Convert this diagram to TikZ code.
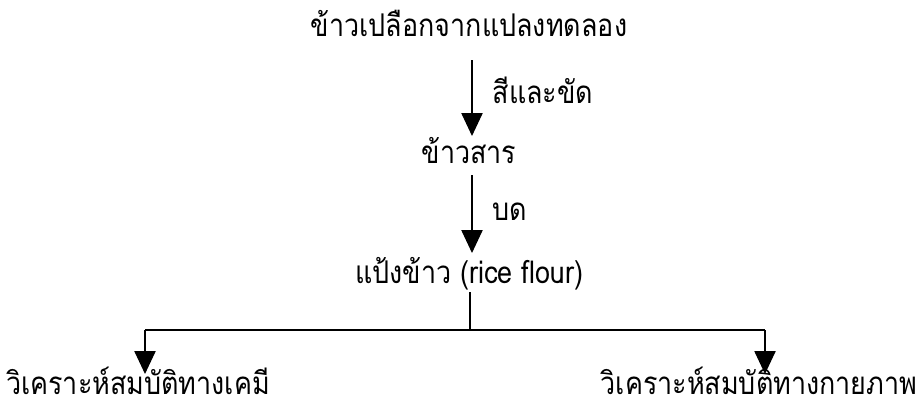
\documentclass[tikz,border=0pt]{standalone}
\usepackage{fontspec}
\newfontfamily\thaifont[Script=Thai,FakeStretch=0.86]{Loma}
\usetikzlibrary{arrows.meta}
\begin{document}
\begin{tikzpicture}[x=0.01cm,y=-0.01cm,
  lbl/.style={font=\thaifont\fontsize{8.9}{10}\selectfont, inner sep=0pt, anchor=base},
  conn/.style={line width=0.45pt},
  arr/.style={conn,-{Triangle[width=6pt,length=6.5pt]}}]
\useasboundingbox (0,0) rectangle (915,405);
\node[lbl] (paddy) at (469,36) {ข้าวเปลือกจากแปลงทดลอง};
\node[lbl] (milled) at (469,163) {ข้าวสาร};
\node[lbl] (flour) at (469,283) {แป้งข้าว (rice flour)};
\node[lbl] (chem) at (138,394) {วิเคราะห์สมบัติทางเคมี};
\node[lbl] (phys) at (759,394) {วิเคราะห์สมบัติทางกายภาพ};
\node[lbl, anchor=base west] (lab1) at (492,103) {สีและขัด};
\node[lbl, anchor=base west] (lab2) at (492,220) {บด};
\coordinate (a1s) at (472,60);
\coordinate (a1e) at (472,136);
\coordinate (a2s) at (472,175);
\coordinate (a2e) at (472,253);
\coordinate (stem) at (470,292);
\coordinate (hub) at (470,330);
\coordinate (lc) at (145,330);
\coordinate (rc) at (765,330);
\coordinate (le) at (145,374);
\coordinate (re) at (765,374);
\draw[arr] (a1s) -- (a1e);
\draw[arr] (a2s) -- (a2e);
\draw[conn] (stem) -- (hub);
\draw[conn] (lc) -- (rc);
\draw[arr] (lc) -- (le);
\draw[arr] (rc) -- (re);
\end{tikzpicture}
\end{document}
